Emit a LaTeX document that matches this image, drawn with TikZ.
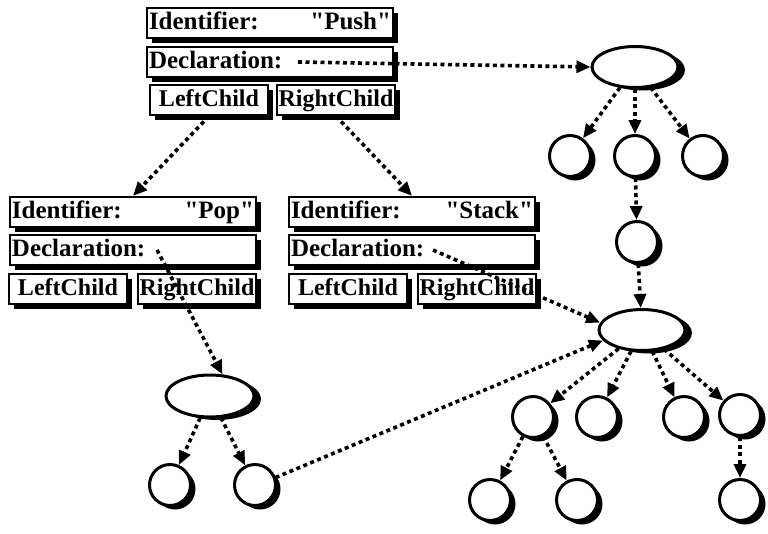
\documentclass[tikz,border=0pt]{standalone}
\usepackage{fontspec}
\setmainfont{Liberation Serif}
\usetikzlibrary{shapes.geometric,arrows.meta,positioning,shadows}
\tikzset
{
	field/.style = {rectangle, draw=black, line width=2.2pt, fill=white, inner xsep=2pt, inner ysep=3pt, text height=18pt, text depth=6pt, font=\bfseries\fontsize{24}{24}\selectfont, drop shadow={shadow xshift=5pt, shadow yshift=-5pt, fill=black, opacity=1}},
	wide/.style = {field, text width=242pt, align=left, font=\bfseries\fontsize{25}{25}\selectfont},
	half/.style = {field, minimum width=118pt},
	symnode/.style = {ellipse, draw=black, line width=3pt, fill=white, minimum width=86pt, minimum height=41pt, drop shadow={shadow xshift=7pt, shadow yshift=-3pt, fill=black, opacity=1}},
	leaf/.style = {circle, draw=black, line width=3pt, fill=white, minimum size=41pt, drop shadow={shadow xshift=5pt, shadow yshift=-4pt, fill=black, opacity=1}},
	ptr/.style = {line width=3.6pt, dash pattern=on 4pt off 3.5pt, -{Triangle[length=14pt,width=12pt]}}
}

\begin{document}
\begin{tikzpicture}[x=1pt, y=-1pt]
\useasboundingbox (0,0) rectangle (768,533);
% records
\node[wide] (pushid) at (270,23) {Identifier:\hfill\textquotedbl Push\textquotedbl};
\node[wide] (pushdecl) at (270,62) {Declaration:};
\node[half] (pushleft) at (209,100) {LeftChild};
\node[half] (pushright) at (336,100) {RightChild};

\node[wide] (popid) at (133,212) {Identifier:\hfill\textquotedbl Pop\textquotedbl};
\node[wide] (popdecl) at (133,250) {Declaration:};
\node[half] (popleft) at (68,289) {LeftChild};
\node[half] (popright) at (197,289) {RightChild};

\node[wide] (stackid) at (412,212) {Identifier:\hfill\textquotedbl Stack\textquotedbl};
\node[wide] (stackdecl) at (412,250) {Declaration:};
\node[half] (stackleft) at (348,289) {LeftChild};
\node[half] (stackright) at (477,289) {RightChild};

% declaration trees
\node[symnode] (topsym) at (635,67) {};
\node[leaf] (t1) at (570,156) {};
\node[leaf] (t2) at (635,156) {};
\node[leaf] (t3) at (703,156) {};
\node[leaf] (t4) at (637,242) {};

\node[symnode] (midsym) at (642,330) {};
\node[leaf] (m1) at (533,417) {};
\node[leaf] (m2) at (597,417) {};
\node[leaf] (m3) at (684,417) {};
\node[leaf] (m4) at (740,415) {};
\node[leaf] (b1) at (490,500) {};
\node[leaf] (b2) at (577,500) {};
\node[leaf] (b4) at (740,500) {};

\node[symnode, minimum width=88pt, minimum height=42pt] (lowsym) at (210,396) {};
\node[leaf] (l1) at (170,485) {};
\node[leaf] (l2) at (255,485) {};

% pointers
\coordinate (pushptr) at (298,62);
\coordinate (popptr) at (157,250);
\coordinate (stackptr) at (433,250);
\draw[ptr] (pushptr) -- (topsym.west);
\draw[ptr] (pushleft.south) -- (popid.north);
\draw[ptr] (pushright.south) -- (stackid.north);
\draw[ptr] (popptr) -- (lowsym.60);
\draw[ptr] (stackptr) -- (midsym.170);
\draw[ptr] (l2.20) -- (midsym.195);

\foreach \c in {t1,t2,t3}
  \draw[ptr] (topsym) -- (\c);
\draw[ptr] (t2) -- (t4);
\draw[ptr] (t4) -- (midsym);
\foreach \c in {m1,m2,m3,m4}
  \draw[ptr] (midsym) -- (\c);
\draw[ptr] (m1) -- (b1);
\draw[ptr] (m1) -- (b2);
\draw[ptr] (m4) -- (b4);
\draw[ptr] (lowsym) -- (l1);
\draw[ptr] (lowsym) -- (l2);
\end{tikzpicture}
\end{document}
